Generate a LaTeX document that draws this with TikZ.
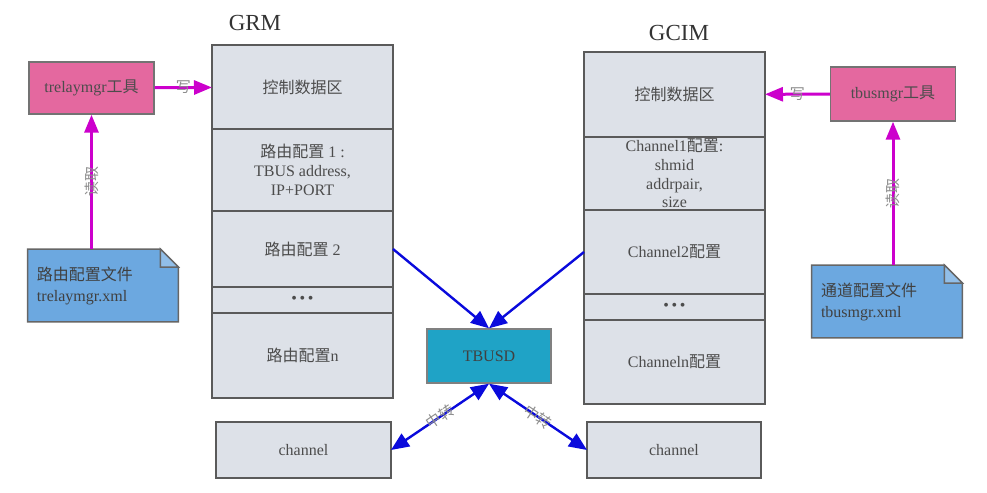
\documentclass[tikz,border=0pt]{standalone}
\usepackage{fontspec}
\setmainfont{Liberation Serif}
\newfontfamily\cjk{Noto Sans CJK SC}
\newcommand{\zh}[1]{{\cjk #1}}
\usetikzlibrary{arrows.meta,positioning,backgrounds}

\begin{document}
\begin{tikzpicture}[x=0.5pt,y=-0.5pt]
      \definecolor{edgegray}{HTML}{5A5A5A}
      \definecolor{cellfill}{HTML}{DDE1E8}
      \definecolor{toolcolor}{HTML}{E4689F}
      \definecolor{doccolor}{HTML}{6CA8E0}
      \definecolor{tbusdcolor}{HTML}{1FA3C6}
      \definecolor{writecolor}{HTML}{CC00CC}
      \definecolor{feedcolor}{HTML}{0A0ADC}
      \tikzset{cell/.style={draw=edgegray,fill=cellfill,text=black!70,line width=0.7pt,
                 minimum width=90.5pt,inner sep=0pt,outer sep=0pt,align=center,
                 font=\fontsize{8}{9.5}\selectfont},
               tool/.style={draw=black!55,fill=toolcolor,text=black!70,line width=0.7pt,
                 minimum width=62.5pt,minimum height=26pt,font=\fontsize{8}{9.5}\selectfont},
               docnode/.style={text width=66pt,inner xsep=4.5pt,align=left,text=black!75,
                 minimum height=36pt,font=\fontsize{8}{10.5}\selectfont},
               docshape/.style={draw=black!60,fill=doccolor,line width=0.7pt},
               title/.style={text=black!80,font=\fontsize{11.5}{13}\selectfont},
               note/.style={text=black!45,inner sep=0.5pt,font=\fontsize{7.5}{8.5}\selectfont},
               wr/.style={writecolor,line width=1.5pt,-{Triangle[length=9pt,width=7pt]}},
               feed/.style={feedcolor,line width=1.2pt,-{Triangle[length=9pt,width=7.5pt]}},
               relay/.style={feedcolor,line width=1.2pt,
                 {Triangle[length=9pt,width=7.5pt]}-{Triangle[length=9pt,width=7.5pt]}}}
      \useasboundingbox (0,0) rectangle (987,493);

      % GRM
      \node[title] (grmtitle) at (255,23) {GRM};
      \node[cell,minimum height=42pt,anchor=north] (grm1) at (302.5,45) {\zh{控制数据区}};
      \node[cell,minimum height=41pt,below=0pt of grm1] (grm2)
          {\zh{路由配置} 1 :\\TBUS address,\\IP+PORT};
      \node[cell,minimum height=38pt,below=0pt of grm2] (grm3) {\zh{路由配置} 2};
      \node[cell,minimum height=13pt,below=0pt of grm3] (grm4)
          {\textbullet\,\textbullet\,\textbullet};
      \node[cell,minimum height=42.5pt,below=0pt of grm4] (grm5) {\zh{路由配置}n};

      % GCIM
      \node[title] (gcimtitle) at (679,33) {GCIM};
      \node[cell,minimum height=42.5pt,anchor=north] (gcim1) at (674.5,52) {\zh{控制数据区}};
      \node[cell,minimum height=36.5pt,below=0pt of gcim1,font=\fontsize{8}{9.3}\selectfont] (gcim2)
          {Channel1\zh{配置}:\\shmid\\addrpair,\\size};
      \node[cell,minimum height=42pt,below=0pt of gcim2] (gcim3) {Channel2\zh{配置}};
      \node[cell,minimum height=13pt,below=0pt of gcim3] (gcim4)
          {\textbullet\,\textbullet\,\textbullet};
      \node[cell,minimum height=42pt,below=0pt of gcim4] (gcim5) {Channeln\zh{配置}};

      % tools and config files
      \node[tool] (ltool) at (91.5,88) {trelaymgr\zh{工具}};
      \node[tool,minimum height=27pt] (rtool) at (893,94) {tbusmgr\zh{工具}};
      \node[docnode] (ldoc) at (103,285.5) {\zh{路由配置文件}\\trelaymgr.xml};
      \node[docnode] (rdoc) at (887,301.5) {\zh{通道配置文件}\\tbusmgr.xml};
      \begin{scope}[on background layer]
        \foreach \d in {ldoc,rdoc} {
          \draw[docshape] (\d.south west) -- (\d.north west) -- ([xshift=-9pt]\d.north east)
              -- ([yshift=-9pt]\d.north east) -- (\d.south east) -- cycle;
          \draw[docshape,fill=doccolor!75!white] ([xshift=-9pt]\d.north east)
              -- ([xshift=-9pt,yshift=-9pt]\d.north east) -- ([yshift=-9pt]\d.north east) -- cycle;
        }
      \end{scope}

      % TBUSD and channels
      \node[draw=black!50,fill=tbusdcolor,text=black!75,line width=0.7pt,minimum width=62pt,
          minimum height=27pt,font=\fontsize{8}{9.5}\selectfont] (tbusd) at (489,356) {TBUSD};
      \node[cell,minimum width=87.5pt,minimum height=28pt] (lchan) at (303.5,450) {channel};
      \node[cell,minimum width=87pt,minimum height=28pt] (rchan) at (674,450) {channel};

      % connectors
      \draw[wr] (ltool) -- node[note]{\zh{写}} (grm1);
      \draw[wr] (rtool) -- node[note]{\zh{写}} (gcim1);
      \draw[wr] (ldoc.north -| ltool.south) -- node[note,rotate=90]{\zh{读取}} (ltool.south);
      \draw[wr] (rdoc.north -| rtool.south) -- node[note,rotate=90]{\zh{读取}} (rtool.south);
      \draw[feed] (grm3.east) -- (tbusd.north);
      \draw[feed] (gcim3.west) -- (tbusd.north);
      \draw[relay] (tbusd.south) -- node[note,sloped]{\zh{中转}} (lchan.east);
      \draw[relay] (tbusd.south) -- node[note,sloped]{\zh{中转}} (rchan.west);
\end{tikzpicture}
\end{document}
